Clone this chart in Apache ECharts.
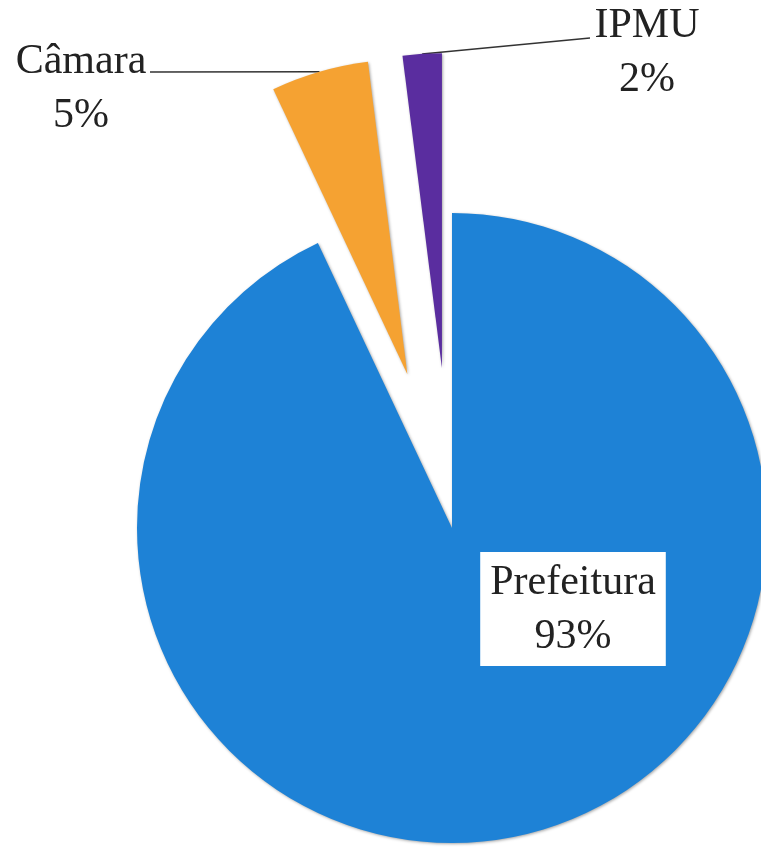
<!DOCTYPE html>
<html>
<head>
    <meta charset="utf-8">
    <title>Pie</title>
    <script src="https://cdn.jsdelivr.net/npm/echarts@6/dist/echarts.min.js"></script>
    <style>
        html, body { margin: 0; padding: 0; background: #fff; }
        #main { width: 761px; height: 848px; }
    </style>
</head>
<body>
<div id="main"></div>
<script type="text/javascript">
    // dados do gráfico
    var names = ['Prefeitura', 'Câmara', 'IPMU'];
    var values = [93, 5, 2];
    var colors = ['#1e82d6', '#f5a232', '#5a2d9f'];
    var exploded = [false, true, true];

    var center = [452, 528];
    var radius = 315;
    var offset = 160;

    var chart = echarts.init(document.getElementById('main'));

    // fatias (com destaque das fatias pequenas)
    var sliceData = [];
    // rótulos (série transparente, sem destaque)
    var labelData = [];
    for (var i = 0; i < names.length; i++) {
        sliceData.push({
            name: names[i],
            value: values[i],
            selected: exploded[i],
            itemStyle: { color: colors[i] }
        });
        labelData.push({ name: names[i], value: values[i] });
    }
    labelData[0].label = {
        backgroundColor: '#fff',
        padding: [4, 10, 2, 10]
    };
    labelData[0].labelLine = { show: false };

    // posição dos rótulos (x central, y do topo, fim da linha guia)
    var labelPos = [
        { x: 573, y: 552, line: null },
        { x: 81, y: 35, line: [150, 72] },
        { x: 647, y: -1, line: [590, 38] }
    ];

    var option = {
        backgroundColor: '#ffffff',
        animation: false,
        series: [{
            type: 'pie',
            center: center,
            radius: radius,
            startAngle: 90,
            clockwise: true,
            selectedMode: 'multiple',
            selectedOffset: offset,
            itemStyle: {
                shadowBlur: 3,
                shadowColor: 'rgba(0,0,0,0.35)',
                shadowOffsetX: 1,
                shadowOffsetY: 1
            },
            label: { show: false },
            labelLine: { show: false },
            emphasis: { disabled: true },
            data: sliceData
        }, {
            type: 'pie',
            silent: true,
            center: center,
            radius: radius,
            startAngle: 90,
            clockwise: true,
            avoidLabelOverlap: false,
            itemStyle: { color: 'rgba(0,0,0,0)' },
            label: {
                show: true,
                position: 'outside',
                fontFamily: 'Liberation Serif',
                fontSize: 42,
                lineHeight: 54,
                color: '#222',
                align: 'center',
                formatter: function (p) {
                    return p.name + '\n' + Math.round(p.percent) + '%';
                }
            },
            labelLine: {
                show: true,
                lineStyle: { color: '#333', width: 1.5 }
            },
            labelLayout: function (params) {
                var pos = labelPos[params.dataIndex];
                var res = {
                    x: pos.x,
                    y: pos.y,
                    align: 'center',
                    verticalAlign: 'top'
                };
                if (pos.line && params.labelLinePoints) {
                    // início da linha na borda da fatia deslocada
                    var p0 = params.labelLinePoints[0];
                    var vx = p0[0] - center[0], vy = p0[1] - center[1];
                    var len = Math.sqrt(vx * vx + vy * vy);
                    var start = [p0[0] + vx / len * offset, p0[1] + vy / len * offset];
                    res.labelLinePoints = [start, pos.line];
                }
                return res;
            },
            emphasis: { disabled: true },
            data: labelData
        }]
    };
    chart.setOption(option);
</script>
</body>
</html>
